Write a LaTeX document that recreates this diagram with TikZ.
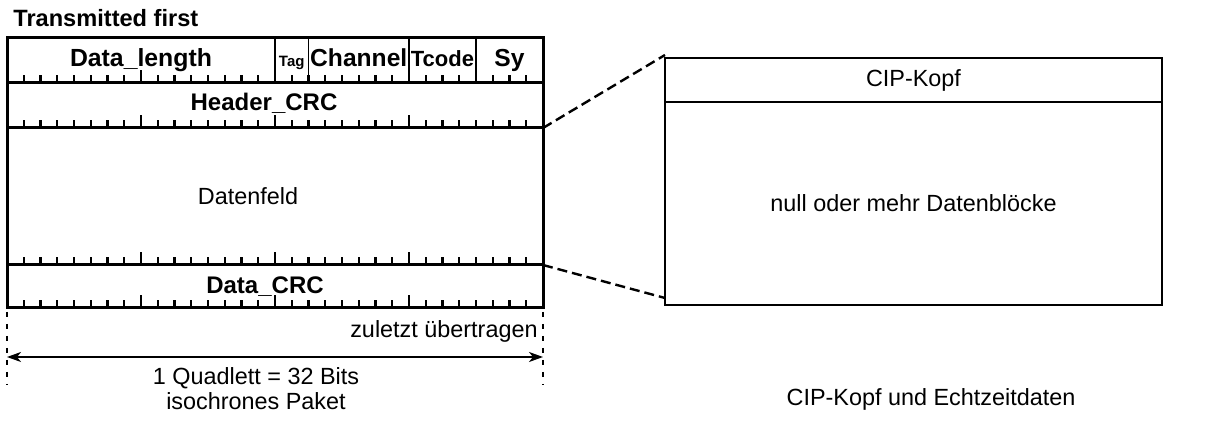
\documentclass[tikz,border=0pt]{standalone}
\usepackage{fontspec}
\setmainfont{Liberation Sans}
\usepackage{tikz}
\usetikzlibrary{arrows.meta, positioning, calc}
\newcommand{\fs}[1]{\fontsize{#1}{#1}\selectfont}

\begin{document}
\begin{tikzpicture}[x=0.5pt, y=-0.5pt, font=\fs{11.7},
  row/.style={draw, line width=1.5pt, minimum width=268pt, inner sep=0pt, outer sep=0pt},
  box/.style={draw, line width=1.2pt, minimum width=248.5pt, inner sep=0pt, outer sep=0pt},
  sep/.style={line width=0.9pt},
  tick/.style={line width=1.2pt},
  zoomline/.style={line width=1.2pt, dash pattern=on 5pt off 2.5pt},
  guide/.style={line width=1.2pt, dash pattern=on 2.5pt off 3.5pt},
  dim/.style={line width=0.8pt, {Stealth[length=7pt,width=5pt,inset=2pt]}-{Stealth[length=7pt,width=5pt,inset=2pt]}},
  fld/.style={anchor=base, inner sep=0pt, font=\bfseries\fs{#1}}]
\useasboundingbox (0,0) rectangle (1208,421);
\node[anchor=base west, inner sep=0pt, font=\bfseries\fs{11.8}] (first) at (13,27) {Transmitted first};
\node[row, minimum height=22.5pt, anchor=north west] (hdr) at (7,38) {};
\node[row, minimum height=22.5pt, below=0pt of hdr] (hcrc) {};
\node[row, minimum height=68.5pt, below=0pt of hcrc] (dfeld) {};
\node[row, minimum height=21.5pt, below=0pt of dfeld] (dcrc) {};
\foreach \b in {16,18,24,28}
  \draw[sep] ($(hdr.north west)!\b/32!(hdr.north east)$) -- ($(hdr.south west)!\b/32!(hdr.south east)$);
\foreach \rw in {hdr,hcrc,dfeld,dcrc}{
  \foreach \b in {1,...,31}{
    \pgfmathsetmacro{\h}{mod(\b,8)==0 ? 6.5 : 4}
    \draw[tick] ($(\rw.south west)!\b/32!(\rw.south east)$) -- ++(0,\h pt);
  }
}
\foreach \f/\s/\t in {8/12.4/Data\_length, 17/7.5/Tag, 21/12.3/Channel, 26/11/Tcode, 30/12.3/Sy}
  \node[fld=\s] at ($(hdr.south west)!\f/32!(hdr.south east)+(0,8pt)$) {\t};
\node[font=\bfseries\fs{12}] (hcrcl) at ([xshift=-5.5pt, yshift=1.2pt]hcrc.center) {Header\_CRC};
\node (dfeldl) at ([xshift=-13.5pt]dfeld.center) {Datenfeld};
\node[font=\bfseries\fs{12}] (dcrcl) at ([xshift=-5pt]dcrc.center) {Data\_CRC};

\node[box, minimum height=22pt, anchor=north west] (cip) at (665,58) {CIP-Kopf};
\node[box, minimum height=101.5pt, below=0pt of cip] (blk) {null oder mehr Datenbl\"ocke};
\draw[zoomline] (hcrc.south east) -- ([yshift=1.5pt]cip.north west);
\draw[zoomline] (dcrc.north east) -- ([yshift=3.5pt]blk.south west);

\coordinate (gl1) at ([yshift=-2pt]dcrc.south west);
\coordinate (gl2) at ([yshift=-38.5pt]dcrc.south west);
\coordinate (gr1) at ([yshift=-2pt]dcrc.south east);
\coordinate (gr2) at ([yshift=-38.5pt]dcrc.south east);
\coordinate (al) at ([yshift=-24.5pt]dcrc.south west);
\coordinate (ar) at ([yshift=-24.5pt]dcrc.south east);
\draw[guide] (gl1) -- (gl2);
\draw[guide] (gr1) -- (gr2);
\draw[dim] (al) -- (ar);
\node[anchor=base east, inner sep=0pt] (last) at ([xshift=-2.5pt, yshift=-15pt]dcrc.south east) {zuletzt \"ubertragen};
\node[align=center, font={\fontsize{11.7}{12.5}\selectfont}] (quad) at ([xshift=-9.5pt, yshift=-40.5pt]dcrc.south) {1 Quadlett = 32 Bits\\isochrones Paket};
\node (cap) at (931,399) {CIP-Kopf und Echtzeitdaten};
\end{tikzpicture}
\end{document}
